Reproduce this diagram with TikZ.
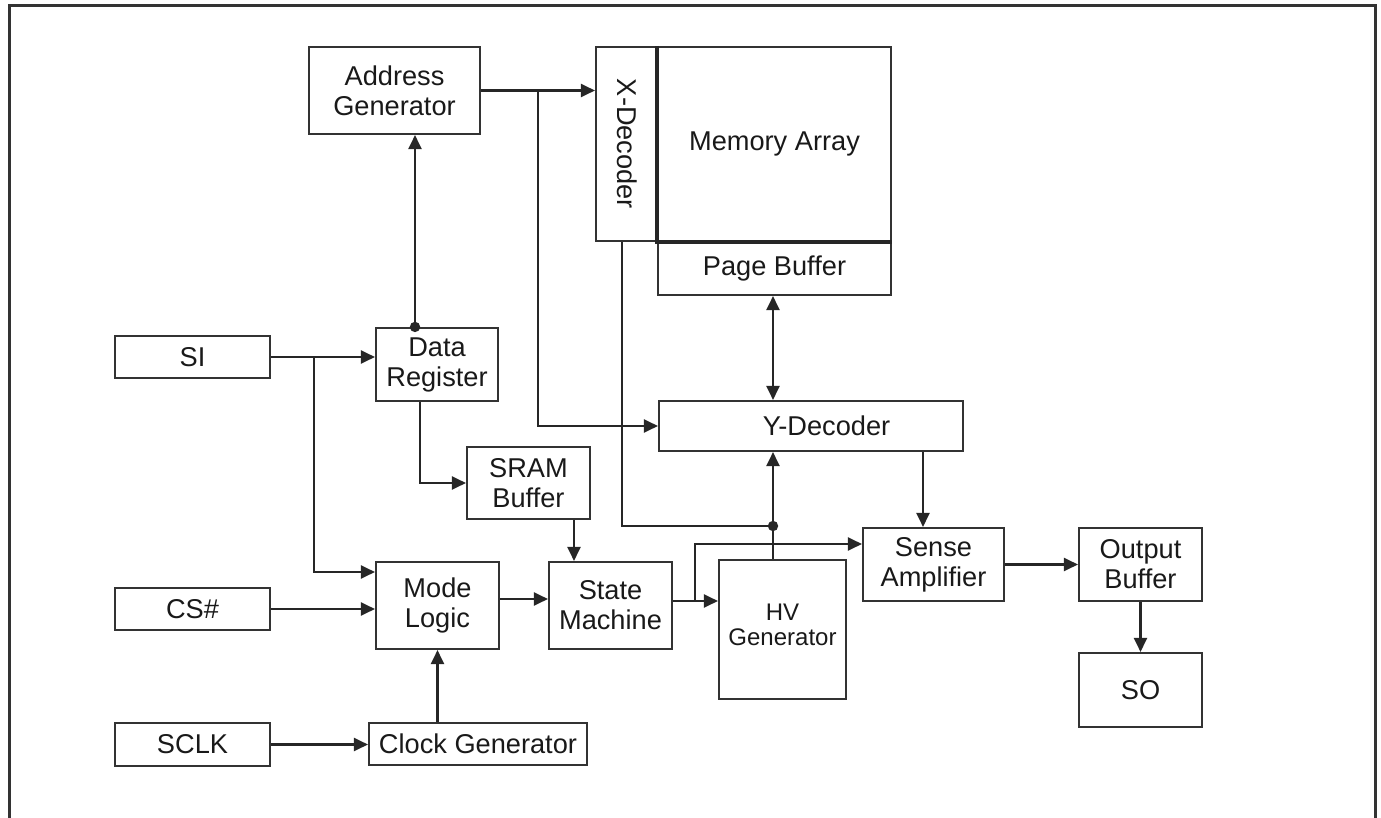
\documentclass[tikz,border=0pt]{standalone}
\usepackage{fontspec}
\setmainfont{Liberation Sans}
\usetikzlibrary{arrows.meta}

\tikzset{
  txt/.style={text=black!90, font=\fontsize{13.6}{15}\selectfont, align=center},
  blk/.style={draw=black!80, line width=1.05pt, inner sep=0pt, txt},
  arr/.style={draw=black!85, line width=1.05pt, -{Triangle[length=7pt,width=6.5pt]}},
  arrboth/.style={arr, {Triangle[length=7pt,width=6.5pt]}-{Triangle[length=7pt,width=6.5pt]}},
  wire/.style={draw=black!85, line width=1.05pt},
  jdot/.style={fill=black!85}
}

\begin{document}
\begin{tikzpicture}[x=0.5pt,y=-0.5pt]
\useasboundingbox (0,0) rectangle (1381,818);
% frame
  \draw[black!80, line width=1.5pt] (9,818) -- (9,6) -- (1375,6) -- (1375,818);

% memory core
  \node[blk, minimum width=116.5pt, minimum height=27pt] (page) at (774.5,268) {Page Buffer};
  \node[blk, minimum width=116.5pt, minimum height=97pt] (mem) at (774.5,144) {Memory Array};
  \node[blk, minimum width=31pt, minimum height=97pt,
        label={[txt, rotate=-90]center:X-Decoder}] (xdec) at (627,144) {};
  \draw[black!85, line width=1.7pt] (mem.north west) -- (mem.south west) -- (mem.south east);
  \node[blk, minimum width=152pt, minimum height=25pt,
        label={[txt, xshift=7.75pt]center:Y-Decoder}] (ydec) at (811,426) {};

% input side
  \node[blk, minimum width=85.5pt, minimum height=43.5pt] (addr) at (394.5,90.5) {Address\\Generator};
  \node[blk, minimum width=61pt, minimum height=36.5pt] (datareg) at (437,364.5) {Data\\Register};
  \node[blk, minimum width=77.5pt, minimum height=21pt] (si) at (192.5,357) {SI};
  \node[blk, minimum width=61.5pt, minimum height=36pt] (sram) at (528.5,483) {SRAM\\Buffer};
  \node[blk, minimum width=61.5pt, minimum height=43.5pt] (mode) at (437.5,605.5) {Mode\\Logic};
  \node[blk, minimum width=61.5pt, minimum height=43.5pt] (state) at (610.5,605.5) {State\\Machine};
  \node[blk, minimum width=77.5pt, minimum height=21pt] (cs) at (192.5,609) {CS\#};
  \node[blk, minimum width=109pt, minimum height=21pt] (clock) at (478,744) {Clock Generator};
  \node[blk, minimum width=77.5pt, minimum height=21.5pt] (sclk) at (192.5,744.5) {SCLK};

% output side
  \node[blk, minimum width=63.5pt, minimum height=69.5pt,
        label={[txt, font=\fontsize{12}{12.5}\selectfont, yshift=2.5pt]center:HV\\Generator}] (hv) at (782.5,629.5) {};
  \node[blk, minimum width=70.5pt, minimum height=36.5pt] (sense) at (933.5,564.5) {Sense\\Amplifier};
  \node[blk, minimum width=61.5pt, minimum height=36.5pt] (outbuf) at (1140.5,564.5) {Output\\Buffer};
  \node[blk, minimum width=61.5pt, minimum height=37pt] (so) at (1140.5,690) {SO};

% address path
  \draw[arr] (addr.east) -- (addr.east -| xdec.west);
  \coordinate (adbr) at (538,90.5);
  \draw[arr] (adbr) |- (ydec.west);
  \coordinate (drtop) at ([xshift=-11pt]datareg.north);
  \draw[arr] (drtop) -- (drtop |- addr.south);
  \fill[jdot] (drtop) circle (2.6pt);

% inputs
  \draw[arr] (si.east) -- (si.east -| datareg.west);
  \coordinate (sibr) at (314,357);
  \draw[arr] (sibr) |- ([yshift=16.75pt]mode.west);
  \draw[arr] (cs.east) -- (cs.east -| mode.west);
  \draw[arr] (sclk.east) -- (sclk.east -| clock.west);
  \draw[arr] (clock.north -| mode.south) -- (mode.south);
  \draw[arr] ([yshift=3.25pt]mode.east) -- ([yshift=3.25pt]state.west);
  \draw[arr] ([xshift=-8.5pt]datareg.south) |- (sram.west);
  \draw[arr] ([xshift=22.75pt]sram.south) -- ([xshift=22.75pt]sram.south |- state.north);

% control to array
  \draw[arr] ([yshift=2.25pt]state.east) -- ([yshift=2.25pt]state.east -| hv.west);
  \coordinate (smbr) at (695,601);
  \draw[arr] (smbr) |- ([yshift=10.25pt]sense.west);
  \coordinate (hvtop) at ([xshift=-4.75pt]hv.north);
  \draw[arr] (hvtop) -- (hvtop |- ydec.south);
  \coordinate (hvdot) at (773,526);
  \draw[wire] ([xshift=-2.5pt]xdec.south) |- (hvdot);
  \fill[jdot] (hvdot) circle (2.6pt);
  \draw[arrboth] (page.south -| hvtop) -- (ydec.north -| hvtop);

% read path
  \draw[arr] ([xshift=56pt]ydec.south) -- ([xshift=56pt]ydec.south |- sense.north);
  \draw[arr] (sense) -- (outbuf);
  \draw[arr] (outbuf) -- (so);
\end{tikzpicture}
\end{document}
